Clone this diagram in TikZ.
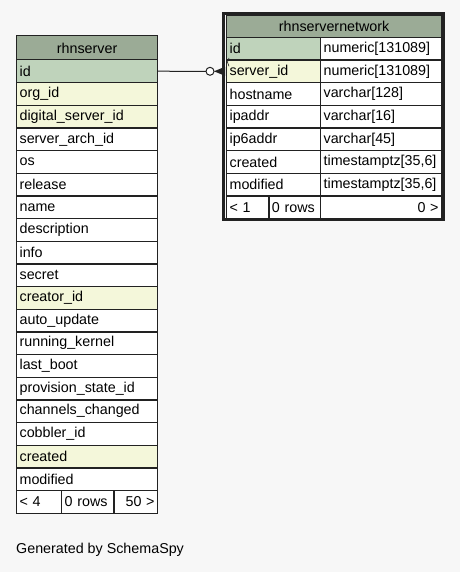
\documentclass[tikz,border=0pt]{standalone}
\usepackage{fontspec}
\setmainfont{Liberation Sans}
\usetikzlibrary{calc}
\definecolor{bg}{HTML}{F7F7F7}
\definecolor{hdr}{HTML}{9BAB96}
\definecolor{pk}{HTML}{BFD3BB}
\definecolor{idx}{HTML}{F4F7DA}
\definecolor{edge}{HTML}{222222}
\tikzset{
  cell/.style={draw=edge, line width=1.2pt, anchor=north west, inner xsep=3pt,
    inner ysep=0pt, minimum height=22.67pt, fill=white, align=left,
    font=\fontsize{14.3}{16}\selectfont},
  rcell/.style={cell, align=right},
  head/.style={cell, fill=hdr, align=center},
  relation/.style={draw=edge, line width=1pt},
}
\begin{document}
\begin{tikzpicture}[x=1pt,y=-1pt]
\fill[bg] (0,0) rectangle (460,572);
\useasboundingbox (0,0) rectangle (460,572);

% rhnserver
\node[head, text width=135pt, minimum height=24pt] (lh) at (16,35.3) {rhnserver};
\foreach \t/\c [count=\i] in {id/pk, org\_id/idx, digital\_server\_id/idx,
  server\_arch\_id/white, os/white, release/white, name/white, description/white,
  info/white, secret/white, creator\_id/idx, auto\_update/white,
  running\_kernel/white, last\_boot/white, provision\_state\_id/white,
  channels\_changed/white, cobbler\_id/white, created/idx, modified/white}
  \node[cell, fill=\c, text width=135pt] (l\i) at (16,{59.3+(\i-1)*22.67}) {\t};
\node[cell, text width=39pt] (lf1) at (16,490.03) {< 4};
\node[cell, text width=46.3pt] (lf2) at (61,490.03) {0 rows};
\node[rcell, text width=37.7pt] (lf3) at (113.3,490.03) {50 >};

% rhnservernetwork
\draw[edge, line width=2.6pt] (223.5,13.8) rectangle (443.6,219.6);
\node[head, text width=209pt, minimum height=21.7pt] (rh) at (226,15) {rhnservernetwork};
\foreach \n/\ty/\c [count=\i] in {id/numeric[131089]/pk,
  server\_id/numeric[131089]/idx, hostname/varchar[128]/white,
  ipaddr/varchar[16]/white, ip6addr/varchar[45]/white,
  created/timestamptz[35{,}6]/white, modified/timestamptz[35{,}6]/white}
  {
  \node[cell, fill=\c, text width=88pt] (rn\i) at (226,{36.7+(\i-1)*22.67}) {\n};
  \node[cell, text width=115pt] (rt\i) at (320,{36.7+(\i-1)*22.67}) {\ty};
  }
\node[cell, text width=36.3pt] (rf1) at (226,195.4) {< 1};
\node[cell, text width=45.7pt] (rf2) at (268.3,195.4) {0 rows};
\node[rcell, text width=115pt] (rf3) at (320,195.4) {0 >};

% foreign key: rhnservernetwork.server_id -> rhnserver.id
\coordinate (ring) at ($(rn2.west)+(-16,0)$);
\draw[relation] (l1.east) -- ($(ring)+(-4,0)$);
\draw[relation, fill=white] (ring) circle (4);
\fill[edge] ($(ring)+(4,0)$) -- ($(rn2.west)+(-1,-4.5)$) -- ($(rn2.west)+(-1,4.5)$) -- cycle;
\draw[edge, line width=0.6pt] ($(rn2.west)+(3,-5)$) arc (140:220:6.5);

\node[anchor=west, font=\fontsize{14.3}{16}\selectfont, inner sep=0pt] (gen) at (16,550) {Generated by SchemaSpy};
\end{tikzpicture}
\end{document}
